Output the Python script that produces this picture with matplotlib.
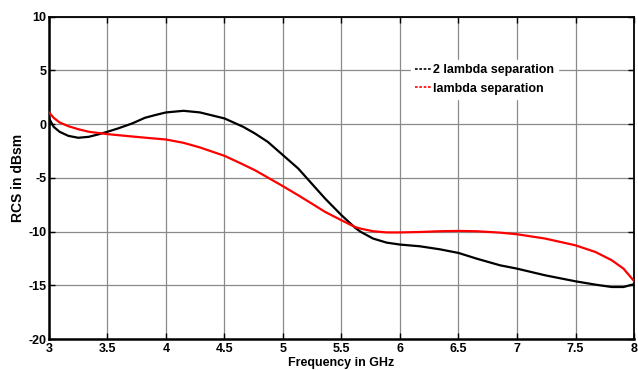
import matplotlib
matplotlib.use("Agg")
import matplotlib.pyplot as plt
from matplotlib.lines import Line2D

freq_black = [3.0, 3.04, 3.09, 3.165, 3.25, 3.34, 3.42, 3.5, 3.59, 3.71, 3.82, 3.906,
              4.0, 4.15, 4.29, 4.5, 4.66, 4.76, 4.87, 5.0, 5.13, 5.245, 5.36, 5.5,
              5.615, 5.66, 5.77, 5.886, 6.0, 6.17, 6.34, 6.5, 6.655, 6.855, 7.0,
              7.24, 7.5, 7.67, 7.81, 7.91, 8.0]
rcs_black = [0.55, -0.25, -0.71, -1.09, -1.27, -1.18, -0.96, -0.71, -0.4, 0.06, 0.59, 0.84,
             1.09, 1.24, 1.09, 0.53, -0.25, -0.87, -1.65, -2.89, -4.13, -5.53, -6.93, -8.48,
             -9.63, -10.0, -10.65, -11.03, -11.21, -11.37, -11.65, -11.99, -12.52, -13.14, -13.45,
             -14.07, -14.63, -14.94, -15.16, -15.16, -14.9]

freq_red = [3.0, 3.04, 3.09, 3.165, 3.25, 3.34, 3.5, 3.68, 3.86, 4.0, 4.15, 4.29, 4.5,
            4.66, 4.76, 4.87, 5.0, 5.13, 5.245, 5.36, 5.5, 5.615, 5.66, 5.77, 5.886,
            6.0, 6.17, 6.34, 6.5, 6.655, 6.855, 7.0, 7.24, 7.5, 7.67, 7.81, 7.91, 8.0]
rcs_red = [1.09, 0.59, 0.16, -0.19, -0.47, -0.71, -0.93, -1.12, -1.3, -1.43, -1.74, -2.17, -2.95,
           -3.76, -4.29, -4.97, -5.78, -6.62, -7.39, -8.17, -8.95, -9.57, -9.72, -9.97, -10.08,
           -10.08, -10.04, -9.97, -9.94, -9.97, -10.1, -10.25, -10.65, -11.28, -11.9, -12.67, -13.45, -14.6]

labels = ["2 lambda separation", "lambda separation"]
xticks = [3, 3.5, 4, 4.5, 5, 5.5, 6, 6.5, 7, 7.5, 8]
xticklabels = ["3", "3.5", "4", "4.5", "5", "5.5", "6", "6.5", "7", "7.5", "8"]
yticks = [-20, -15, -10, -5, 0, 5, 10]

plt.rcParams['font.family'] = ['Liberation Sans', 'DejaVu Sans']
plt.rcParams['font.weight'] = 'bold'
plt.rcParams['axes.unicode_minus'] = False

fig = plt.figure(figsize=(6.38, 3.70), dpi=100)
ax = fig.add_axes([49/638, 31/370, 585/638, 322.3/370])

ax.plot(freq_black, rcs_black, color='black', lw=1.6, label=labels[0], zorder=3,
        solid_joinstyle='round')
ax.plot(freq_red, rcs_red, color='red', lw=1.6, label=labels[1], zorder=3,
        solid_joinstyle='round')

ax.set_xlim(3, 8)
ax.set_ylim(-20, 10)
ax.set_xticks(xticks)
ax.set_xticklabels(xticklabels)
ax.set_yticks(yticks)
ax.grid(True, color='#8a8a8a', lw=0.9)
ax.set_axisbelow(True)
ax.tick_params(direction='in', top=True, right=True, length=4, width=1,
               labelsize=9)
ax.tick_params(axis='x', pad=3)
ax.tick_params(axis='y', pad=2)
for lab in ax.get_xticklabels() + ax.get_yticklabels():
    lab.set_fontweight('bold')
for side in ['left', 'bottom']:
    ax.spines[side].set_linewidth(1.8)
for side in ['top', 'right']:
    ax.spines[side].set_linewidth(1.3)

ax.set_xlabel("Frequency in GHz", fontsize=9, fontweight='bold', labelpad=1)
ax.set_ylabel("RCS in dBsm", fontsize=10, fontweight='bold', labelpad=2)

handles = [Line2D([], [], color='black', lw=1.2, linestyle=(0, (1.6, 1.0))),
           Line2D([], [], color='red', lw=1.2, linestyle=(0, (1.6, 1.0)))]
leg = ax.legend(handles, labels, loc='upper left', bbox_to_anchor=(0.619, 0.867),
                frameon=True, fancybox=False, edgecolor='white', facecolor='white',
                framealpha=1, fontsize=9, handlelength=1.3, handletextpad=0.1,
                borderpad=0.35, labelspacing=0.55, borderaxespad=0)
for t in leg.get_texts():
    t.set_fontweight('bold')

fig.savefig("out.png", dpi=100)
